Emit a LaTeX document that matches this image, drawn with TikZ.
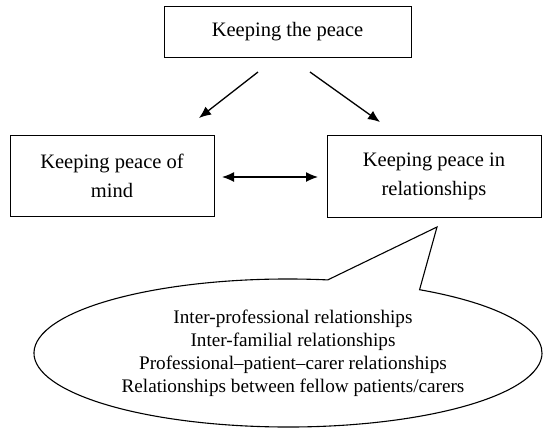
\documentclass[tikz,border=0pt]{standalone}
\usepackage{fontspec}
\setmainfont{Liberation Serif}
\usetikzlibrary{arrows.meta}
\begin{document}
\begin{tikzpicture}[x=1pt,y=-1pt,
  box/.style={draw, line width=1pt, align=center, inner sep=0pt,
    font=\fontsize{20.5}{29}\selectfont},
  conn/.style={-{Latex[length=12pt,width=10pt]}, line width=1.3pt},
  dconn/.style={{Latex[length=12pt,width=10pt]}-{Latex[length=12pt,width=10pt]}, line width=1.3pt},
  bubble/.style={draw, line width=1.1pt},
  bubbletext/.style={align=center, font=\fontsize{19.2}{23}\selectfont}]
\useasboundingbox (0,0) rectangle (544,429);
\node[box, minimum width=247pt, minimum height=51pt] (top) at (287.5,31.5) {Keeping the peace};
\node[box, minimum width=204pt, minimum height=81pt] (mind) at (112,175.5) {Keeping peace of\\mind};
\node[box, minimum width=214pt, minimum height=82pt] (rel) at (434,176) {Keeping peace in\\relationships};
\coordinate (l1) at (258,72);
\coordinate (l2) at (199,118);
\coordinate (r1) at (310,72);
\coordinate (r2) at (380,122);
\coordinate (d1) at (222,177);
\coordinate (d2) at (318,177);
\draw[conn] (l1) -- (l2);
\draw[conn] (r1) -- (r2);
\draw[dconn] (d1) -- (d2);
\coordinate (ctr) at (288,353);
\coordinate (ptr) at (437,227);
\draw[bubble] (ctr) ++(81:254pt and 74pt) arc[start angle=81, end angle=418.8, x radius=254pt, y radius=74pt] -- (ptr) -- cycle;
\node[bubbletext] (list) at (293,353) {Inter-professional relationships\\Inter-familial relationships\\Professional--patient--carer relationships\\Relationships between fellow patients/carers};
\end{tikzpicture}
\end{document}
